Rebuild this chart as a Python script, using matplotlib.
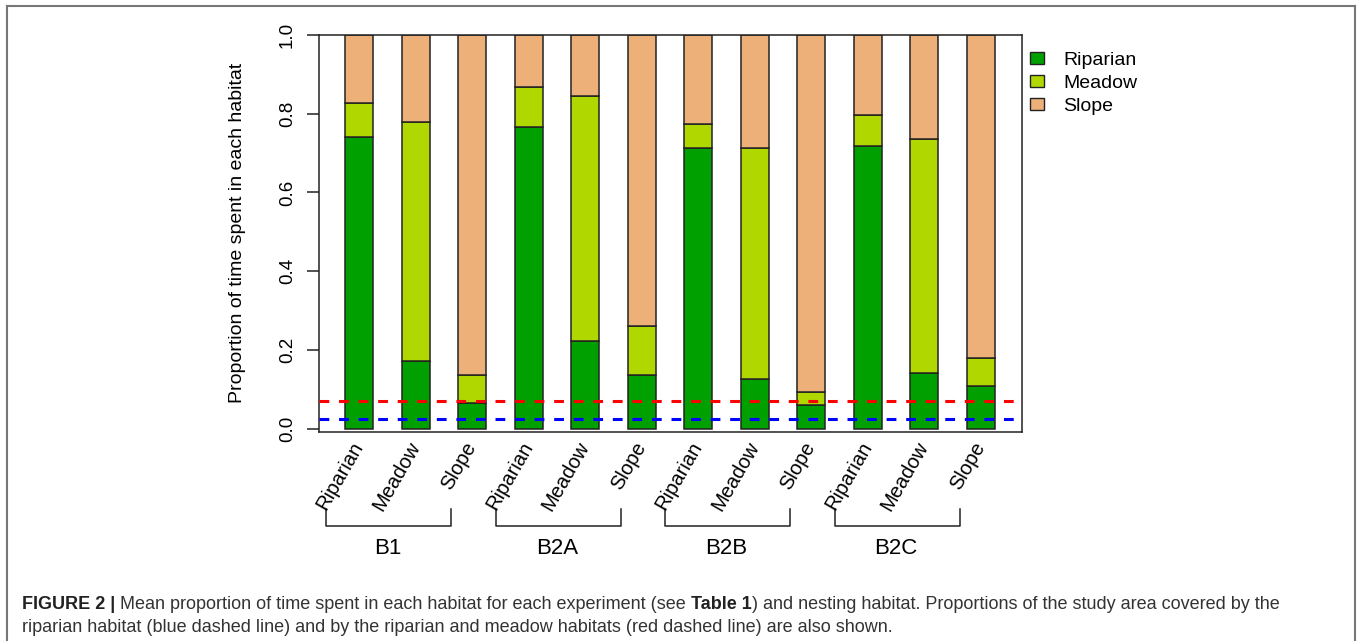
import numpy as np
import matplotlib
matplotlib.use("Agg")
import matplotlib.pyplot as plt
from matplotlib.patches import Patch
from matplotlib.lines import Line2D

# ---------------- data ----------------
groups = ["B1", "B2A", "B2B", "B2C"]
nesting = ["Riparian", "Meadow", "Slope"]
riparian = [0.740, 0.171, 0.065, 0.765, 0.222, 0.135, 0.713, 0.126, 0.060, 0.718, 0.142, 0.108]
meadow   = [0.086, 0.608, 0.072, 0.103, 0.623, 0.126, 0.061, 0.586, 0.034, 0.078, 0.595, 0.071]
slope    = [0.174, 0.221, 0.863, 0.132, 0.155, 0.739, 0.226, 0.288, 0.906, 0.204, 0.263, 0.821]
area_riparian = 0.023
area_rip_meadow = 0.070
yticks = [0.0, 0.2, 0.4, 0.6, 0.8, 1.0]
legend_labels = ["Riparian", "Meadow", "Slope"]

c_rip = "#00A000"
c_mea = "#B0D800"
c_slo = "#ECB078"

plt.rcParams["font.family"] = ["Liberation Sans", "DejaVu Sans"]

W, H = 1360, 641
fig = plt.figure(figsize=(W / 100, H / 100), dpi=100)
fig.patch.set_facecolor("white")

def fx(px):
    return px / W

def fy(py):
    return 1 - py / H

ax_l, ax_r, ax_t, ax_b = 319, 1022, 35, 431.7
ax = fig.add_axes([fx(ax_l), fy(ax_b), fx(ax_r) - fx(ax_l), fy(ax_t) - fy(ax_b)])

n = len(riparian)
x = np.arange(n)
labels = nesting * len(groups)
rip = np.array(riparian)
mea = np.array(meadow)
slo = np.array(slope)

kw = dict(width=0.5, edgecolor="#222222", linewidth=1.1, zorder=2)
ax.bar(x, rip, color=c_rip, **kw)
ax.bar(x, mea, bottom=rip, color=c_mea, **kw)
ax.bar(x, slo, bottom=rip + mea, color=c_slo, **kw)

ax.axhline(area_rip_meadow, color="#FF0000", lw=2.2, dashes=(3.2, 3.2), zorder=3)
ax.axhline(area_riparian, color="#0000FF", lw=2.2, dashes=(3.2, 3.2), zorder=3)

ax.set_xlim(-0.71, 11.73)
ax.set_ylim(-0.008, 1.0)

for s in ax.spines.values():
    s.set_linewidth(1.1)
    s.set_color("#222222")

ax.set_xticks([])
ax.set_yticks(yticks)
ax.set_yticklabels([f"{v:.1f}" for v in yticks], rotation=90, va="center")
ax.tick_params(axis="y", length=8.6, width=1.1, pad=8, labelsize=13.5, color="#222222")

# x category labels (rotated)
for xi, lab in zip(x, labels):
    ax.text(xi, -0.037, lab, rotation=60, ha="right", va="center",
            rotation_mode="anchor", fontsize=14.5, clip_on=False)

# brackets and group labels
for g, name in enumerate(groups):
    x0 = -0.58 + 3 * g
    x1 = 1.63 + 3 * g
    ax.plot([x0, x0, x1, x1], [-0.205, -0.248, -0.248, -0.205], color="#222222",
            lw=1.1, clip_on=False)
    ax.text(0.5 + 3 * g, -0.305, name, ha="center", va="center", fontsize=16, clip_on=False)

fig.text(fx(238), fy(233), "Proportion of time spent in each habitat", rotation=90,
         ha="center", va="center", fontsize=14)

handles = [Patch(facecolor=c, edgecolor="#222222", linewidth=1.0) for c in (c_rip, c_mea, c_slo)]
fig.legend(handles, legend_labels, loc="upper left", bbox_to_anchor=(fx(1030), fy(52)),
           frameon=False, fontsize=14, borderpad=0, borderaxespad=0,
           handlelength=0.7, handleheight=0.6, handletextpad=1.0, labelspacing=0.3)

# figure frame (left, top, right)
frame_col = "#777777"
fig.add_artist(Line2D([fx(7), fx(7)], [0, fy(6)], color=frame_col, lw=1.5))
fig.add_artist(Line2D([fx(7), fx(1355)], [fy(6), fy(6)], color=frame_col, lw=1.5))
fig.add_artist(Line2D([fx(1355), fx(1355)], [0, fy(6)], color=frame_col, lw=1.5))

# caption with mixed weights
cap_lines = [
    [("FIGURE 2 |", "bold"), (" Mean proportion of time spent in each habitat for each experiment (see ", "normal"),
     ("Table 1", "bold"), (") and nesting habitat. Proportions of the study area covered by the", "normal")],
    [("riparian habitat (blue dashed line) and by the riparian and meadow habitats (red dashed line) are also shown.", "normal")],
]
cap_y = [609, 632]
cap_size = 13.0
cap_col = "#333333"
fig.canvas.draw()
renderer = fig.canvas.get_renderer()
for line, yb in zip(cap_lines, cap_y):
    xpos = 22
    for txt, wt in line:
        t = fig.text(fx(xpos), fy(yb), txt, fontsize=cap_size, fontweight=wt,
                     color="#222222" if wt == "bold" else cap_col, ha="left", va="baseline")
        bb = t.get_window_extent(renderer=renderer)
        xpos += bb.width

fig.savefig("out.png", dpi=100, facecolor="white")
